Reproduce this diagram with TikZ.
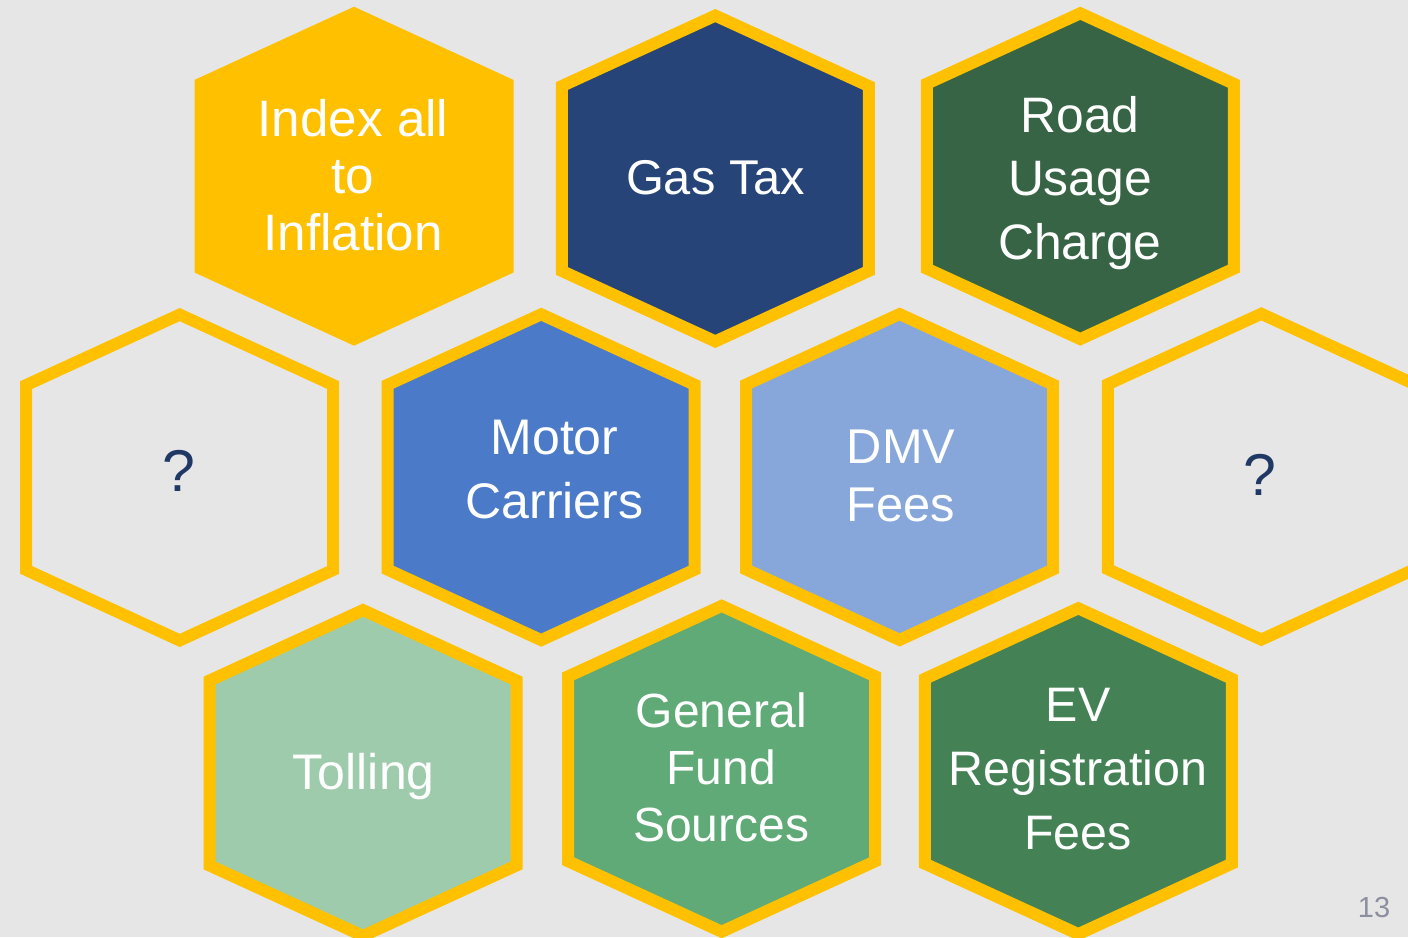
\documentclass[tikz,border=0pt]{standalone}
\usepackage{fontspec}
\setmainfont{Liberation Sans}
\usepackage{xcolor}
\usepackage{tikz}
\usetikzlibrary{positioning}

\definecolor{slidebg}{HTML}{E7E6E6}
\definecolor{hexgold}{HTML}{FFC000}
\definecolor{gasnavy}{HTML}{264478}
\definecolor{roadgreen}{HTML}{366444}
\definecolor{motorblue}{HTML}{4B7BC8}
\definecolor{dmvblue}{HTML}{87A7DB}
\definecolor{tollgreen}{HTML}{9ECBAB}
\definecolor{fundgreen}{HTML}{5FAA76}
\definecolor{evgreen}{HTML}{448256}
\definecolor{asknavy}{HTML}{1F3864}
\definecolor{pagegray}{HTML}{8C8FA0}

\begin{document}
\begin{tikzpicture}[x=0.5pt, y=-0.5pt,
  hexcell/.style={draw=hexgold, line width=6pt, line join=miter},
  celltext/.style={text=white, align=center, inner sep=0pt}]

%//slide area, 1 unit = 1 pixel
\useasboundingbox (0,0) rectangle (1408,937);
\clip (0,0) rectangle (1408,937);
\fill[slidebg] (0,0) rectangle (1408,937);

%//hexagons: centre x / centre y / fill
\foreach \cx/\cy/\col in {354/176.2/hexgold, 715.3/178.5/gasnavy, 1080.3/176.2/roadgreen,
    179.7/477.5/slidebg, 541.2/477.2/motorblue, 899.6/477/dmvblue, 1261.3/476.7/slidebg,
    363/773/tollgreen, 721.7/768.8/fundgreen, 1078.3/771.2/evgreen}
\filldraw[hexcell, fill=\col] (\cx,\cy) ++(0,-162.9) -- ++(153.5,70.45) -- ++(0,184.9)
    -- ++(-153.5,70.45) -- ++(-153.5,-70.45) -- ++(0,-184.9) -- cycle;

%//top row
\node[celltext, font=\fontsize{25.6}{28.6}\selectfont] (index) at (353,175) {Index all\\to\\Inflation};
\node[celltext, font=\fontsize{24.4}{29}\selectfont] (gastax) at (715.5,177.5) {Gas Tax};
\node[celltext, font=\fontsize{24.9}{31.75}\selectfont] (roaduse) at (1080,183) {Road\\Usage\\Charge};

%//middle row
\node[text=asknavy, font=\fontsize{29.5}{34}\selectfont, inner sep=0pt] (askleft) at (178.7,470.8) {?};
\node[celltext, font=\fontsize{25}{32}\selectfont] (motor) at (554.5,470) {Motor\\Carriers};
\node[celltext, font=\fontsize{24.4}{29}\selectfont] (dmv) at (901,476) {DMV\\Fees};
\node[text=asknavy, font=\fontsize{29.5}{34}\selectfont, inner sep=0pt] (askright) at (1260,475) {?};

%//bottom row
\node[celltext, font=\fontsize{25}{30}\selectfont] (tolling) at (363.8,777) {Tolling};
\node[celltext, font=\fontsize{24}{28.5}\selectfont] (genfund) at (721.3,767.8) {General\\Fund\\Sources};
\node[celltext, font=\fontsize{24.2}{32}\selectfont] (evfees) at (1078,768.8) {EV\\Registration\\Fees};

\node[text=pagegray, font=\fontsize{14.5}{17}\selectfont, inner sep=0pt] (pagenum) at (1374,908) {13};
\end{tikzpicture}
\end{document}
